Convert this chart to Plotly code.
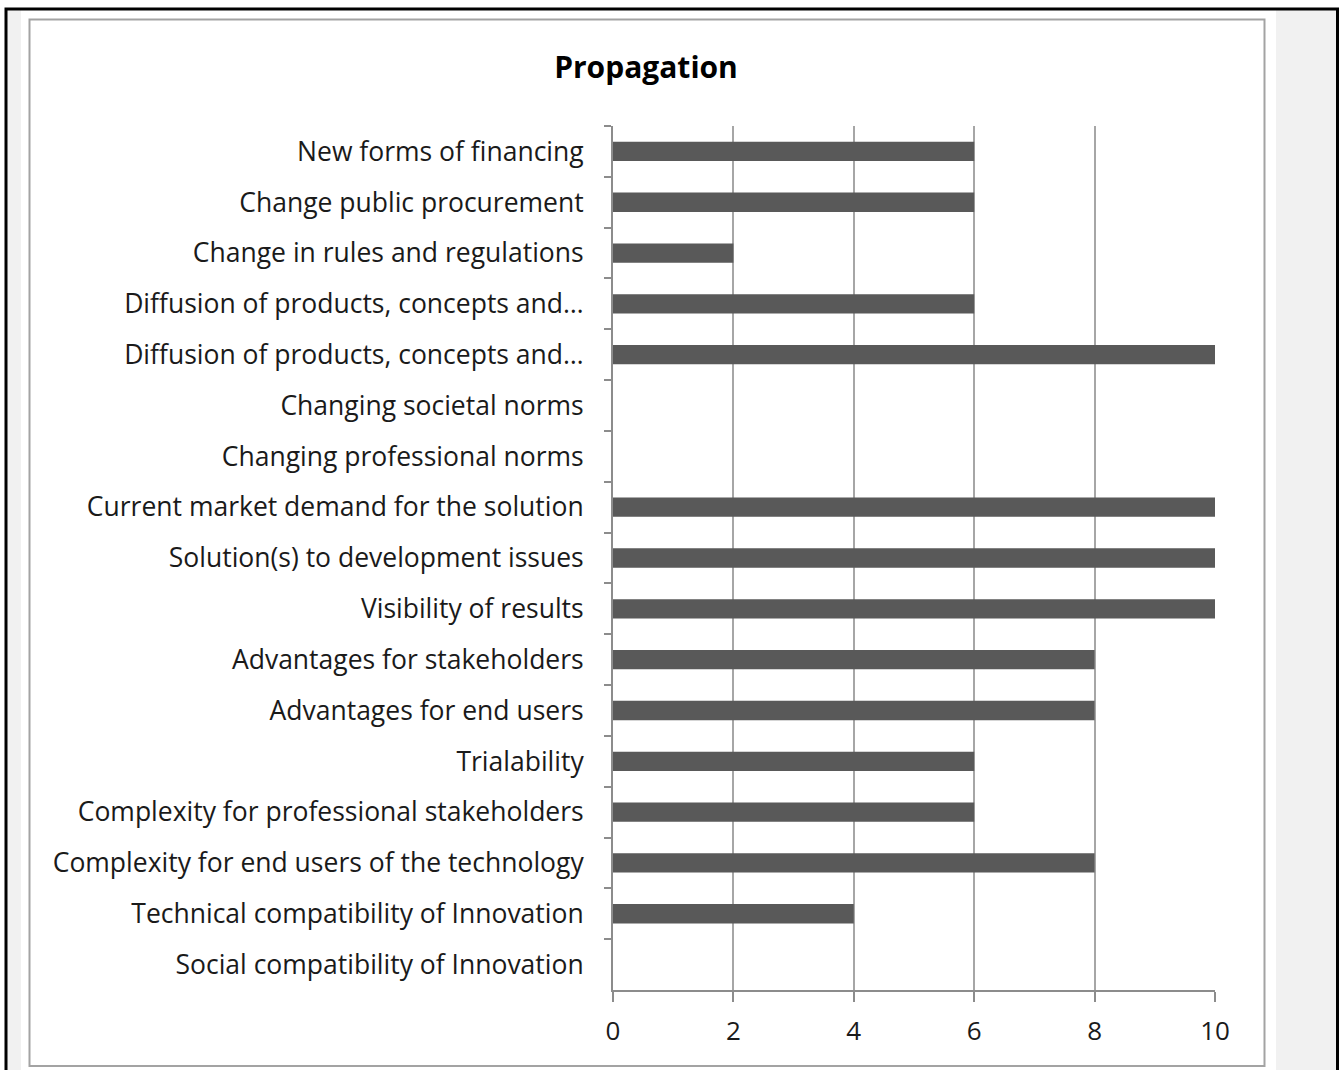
import plotly.graph_objects as go

# Propagation factors, listed top to bottom as they appear on the chart
factors = [
    "New forms of financing",
    "Change public procurement",
    "Change in rules and regulations",
    "Diffusion of products, concepts and…",
    "Diffusion of products, concepts and…\u200b",
    "Changing societal norms",
    "Changing professional norms",
    "Current market demand for the solution",
    "Solution(s) to development issues",
    "Visibility of results",
    "Advantages for stakeholders",
    "Advantages for end users",
    "Trialability",
    "Complexity for professional stakeholders",
    "Complexity for end users of the technology",
    "Technical compatibility of Innovation",
    "Social compatibility of Innovation",
]
scores = [6, 6, 2, 6, 10, 0, 0, 10, 10, 10, 8, 8, 6, 6, 8, 4, 0]
x_ticks = [0, 2, 4, 6, 8, 10]

W, H = 1340, 1070
ML, MR, MT, MB = 613, 125, 126, 80
PW, PH = W - ML - MR, H - MT - MB


def px_x(v):
    return (v - ML) / PW


def px_y(v):
    return (H - MB - v) / PH


FONT = "Open Sans"
TEXT = "#1a1a1a"
AXIS = "#8c8c8c"

fig = go.Figure(
    go.Bar(
        x=scores,
        y=factors,
        orientation="h",
        marker=dict(color="#595959", line=dict(width=0)),
        width=0.38,
        hoverinfo="x+y",
    )
)

shapes = [
    # light grey side strips
    dict(type="rect", xref="paper", yref="paper", layer="below",
         x0=px_x(7), x1=px_x(21), y0=px_y(10), y1=px_y(1075),
         fillcolor="#f1f1f1", line=dict(width=0)),
    dict(type="rect", xref="paper", yref="paper", layer="below",
         x0=px_x(1276), x1=px_x(1336), y0=px_y(10), y1=px_y(1075),
         fillcolor="#f1f1f1", line=dict(width=0)),
    # outer black frame
    dict(type="rect", xref="paper", yref="paper", layer="below",
         x0=px_x(6), x1=px_x(1337.5), y0=px_y(9), y1=px_y(1085),
         fillcolor="rgba(0,0,0,0)", line=dict(color="#000000", width=3)),
    # chart area frame
    dict(type="rect", xref="paper", yref="paper", layer="below",
         x0=px_x(29.5), x1=px_x(1264.5), y0=px_y(19.5), y1=px_y(1066),
         fillcolor="rgba(0,0,0,0)", line=dict(color="#a3a3a3", width=2)),
]

fig.update_layout(
    width=W,
    height=H,
    margin=dict(l=ML, r=MR, t=MT, b=MB, pad=0),
    paper_bgcolor="#ffffff",
    plot_bgcolor="#ffffff",
    showlegend=False,
    shapes=shapes,
    title=dict(
        text="<b>Propagation</b>",
        font=dict(family=FONT, size=30, color="#000000"),
        x=646 / W,
        xref="container",
        xanchor="center",
        y=1 - 67 / H,
        yref="container",
        yanchor="middle",
    ),
    xaxis=dict(
        range=[0, 10],
        tickmode="array",
        tickvals=x_ticks,
        ticktext=[str(v) for v in x_ticks],
        showgrid=True,
        gridcolor="#a6a6a6",
        gridwidth=2,
        zeroline=False,
        showline=True,
        linecolor=AXIS,
        linewidth=2,
        ticks="outside",
        ticklen=10,
        tickwidth=2,
        tickcolor=AXIS,
        tickfont=dict(family=FONT, size=26, color=TEXT),
        ticklabelstandoff=7,
    ),
    yaxis=dict(
        type="category",
        categoryorder="array",
        categoryarray=factors,
        autorange="reversed",
        showgrid=False,
        zeroline=False,
        showline=True,
        linecolor=AXIS,
        linewidth=2,
        ticks="outside",
        tickson="boundaries",
        ticklen=7,
        tickwidth=2,
        tickcolor=AXIS,
        tickfont=dict(family=FONT, size=26.5, color=TEXT),
        ticklabelstandoff=22,
    ),
)

fig.write_html("out.html")
